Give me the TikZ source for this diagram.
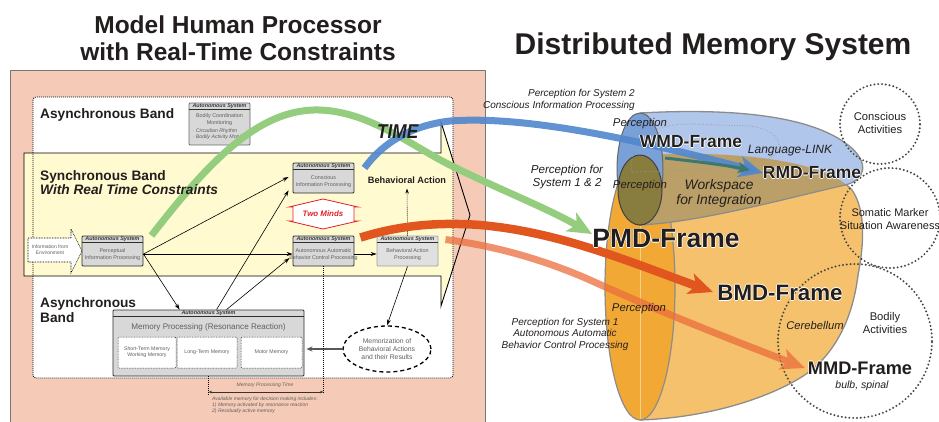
\documentclass[tikz,border=0pt]{standalone}
\usepackage{fontspec}
\setmainfont{Liberation Sans}
\usetikzlibrary{arrows.meta,shapes.geometric}

\definecolor{panelbg}{RGB}{245,203,183}
\definecolor{panelline}{RGB}{120,120,120}
\definecolor{bandyellow}{RGB}{255,250,208}
\definecolor{boxfill}{RGB}{216,216,216}
\definecolor{boxedge}{RGB}{45,45,45}
\definecolor{boxtext}{RGB}{95,95,95}
\definecolor{hdrtext}{RGB}{55,55,55}
\definecolor{mindred}{RGB}{230,30,40}
\definecolor{flowgreen}{RGB}{148,205,125}
\definecolor{flowblue}{RGB}{80,135,205}
\definecolor{flowred}{RGB}{225,85,30}
\definecolor{flowpeach}{RGB}{235,110,60}
\definecolor{linkteal}{RGB}{60,120,110}
\definecolor{bluebody}{RGB}{176,198,234}
\definecolor{bluefront}{RGB}{122,160,216}
\definecolor{orangebody}{RGB}{246,193,108}
\definecolor{orangefront}{RGB}{242,168,52}
\definecolor{workspace}{RGB}{186,160,104}
\definecolor{olive}{RGB}{136,124,62}
\definecolor{shapeedge}{RGB}{140,140,140}
\definecolor{circleedge}{RGB}{70,70,70}
\definecolor{labeltext}{RGB}{35,30,30}

\newcommand\fsz[2]{\fontsize{#1}{#2}\selectfont}

% text with a thin white outline, for labels lying on coloured areas
\newcommand\halo[1]{\leavevmode
  \rlap{\color{white}\raisebox{0.8pt}{#1}}%
  \rlap{\color{white}\raisebox{-0.8pt}{#1}}%
  \rlap{\color{white}\hspace{0.8pt}#1}%
  \rlap{\color{white}\hspace{-0.8pt}#1}%
  #1}

% an "Autonomous System" box: [style] name, x, y, width, height, body
\newcommand\asysbox[7][]{%
  \node[asbox, minimum width=#5, minimum height=#6, #1] (#2) at (#3,#4) {};
  \draw[draw=boxedge, line width=0.6pt] ([yshift=-7pt]#2.north west) -- ([yshift=-7pt]#2.north east);
  \node[ashdr] (#2-hdr) at ([yshift=-3.6pt]#2.north) {Autonomous System};
  \node[asbody] (#2-txt) at ([yshift=-3.5pt]#2.center) {#7};
}

\tikzset{
  asbox/.style={draw=boxedge, fill=boxfill, line width=0.9pt, rounded corners=1pt, inner sep=0pt},
  ashdr/.style={font=\bfseries\itshape\fsz{5.4}{6}, text=hdrtext, inner sep=0pt},
  asbody/.style={font=\fsz{5.4}{6.4}, text=boxtext, align=center, inner sep=0pt},
  memcell/.style={draw=boxedge, fill=white, line width=0.5pt, dash pattern=on 0.8pt off 0.8pt, rounded corners=1pt, inner sep=0pt, font=\fsz{5.2}{6.2}, text=boxtext, align=center},
  link/.style={draw=black, line width=0.6pt, -{Stealth[length=6pt,width=4pt]}},
  bandlabel/.style={font=\bfseries\fsz{13.7}{15.5}, text=labeltext, inner sep=0pt, anchor=base west},
  smallnote/.style={font=\itshape\fsz{5}{6}, text=boxtext, inner sep=0pt},
  framelabel/.style={font=\bfseries, text=labeltext, inner sep=0pt},
  itlabel/.style={font=\itshape, text=labeltext, inner sep=0pt, align=center},
  uplabel/.style={text=labeltext, inner sep=0pt, align=center},
  dotcircle/.style={circle, draw=circleedge, line width=2.2pt, dash pattern=on 0pt off 3.8pt, line cap=round, inner sep=0pt},
  flow/.style={line width=#1, line cap=butt},
  bighead/.style={-{Stealth[length=24pt,width=21pt,inset=6pt]}},
}

\begin{document}
\begin{tikzpicture}[x=1pt,y=-1pt]
\useasboundingbox (0,0) rectangle (939,421);

% ---------- titles ----------
\node[font=\bfseries\fsz{24.5}{27}, text=labeltext, align=center, inner sep=0pt] (ttl-left) at (238,38) {Model Human Processor\\with Real-Time Constraints};
\node[font=\bfseries\fsz{30}{34}, text=labeltext, inner sep=0pt] (ttl-right) at (713,47) {Distributed Memory System};

% ---------- left panel: bands ----------
\fill[panelbg] (10,70) rectangle (485,426);
\draw[panelline, line width=1pt] (10,426) -- (10,70) -- (485,70) -- (485,426);
\fill[white, rounded corners=3pt] (33,97) rectangle (453,378);
\begin{scope}
  \clip (0,0) rectangle (453,421);
  \fill[bandyellow] (24,153) -- (441,153) -- (441,122) -- (470,215) -- (441,306) -- (441,276) -- (24,276) -- cycle;
\end{scope}
\draw[black, line width=0.7pt, dash pattern=on 1pt off 1pt, rounded corners=3pt] (33,97) rectangle (453,378);
\draw[black, line width=0.9pt, line join=miter] (24,153) -- (441,153) -- (441,122) -- (470,215) -- (441,306) -- (441,276) -- (24,276) -- cycle;

% ---------- information input ----------
\filldraw[fill=white, draw=black, line width=0.6pt, dash pattern=on 0.8pt off 0.8pt] (28,238) -- (71,238) -- (71,229) -- (82,251) -- (71,273) -- (71,262) -- (28,262) -- cycle;
\node[asbody, font=\fsz{5}{6}] (env) at (50,250) {Information from\\Environment};

% ---------- autonomous systems ----------
\asysbox[draw=boxedge!70]{bcm}{219.5}{124}{61pt}{42pt}{}
\node[asbody] (bcm-txt2) at (219.5,119.5) {Bodily Coordination\\Monitoring};
\node[asbody, font=\itshape\fsz{5.2}{6}, align=left, anchor=west] (bcm-list) at (192,134.5) {$\cdot$ Circadian Rhythm\\$\cdot$ Bodily Activity Monitor};

\asysbox{pip}{112.5}{251}{61pt}{30pt}{Perceptual\\Information Processing}
\asysbox{cip}{323.5}{178}{61pt}{30pt}{Conscious\\Information Processing}
\asysbox{abc}{323.5}{251}{61pt}{30pt}{Autonomous Automatic\\Behavior Control Processing}
\asysbox[draw=boxedge!45, fill=boxfill!80]{bap}{407.5}{251}{61pt}{30pt}{Behavioral Action\\Processing}

\asysbox{mem}{208.5}{343}{191pt}{66pt}{}
\node[asbody, font=\fsz{8.1}{9}] (mem-title) at (208.5,327) {Memory Processing (Resonance Reaction)};
\node[memcell, minimum width=58pt, minimum height=31pt] (stm) at (147,352.5) {Short-Term Memory\\Working Memory};
\node[memcell, minimum width=60pt, minimum height=31pt] (ltm) at (207,352.5) {Long-Term Memory};
\node[memcell, minimum width=61pt, minimum height=31pt] (mot) at (271.5,352.5) {Motor Memory};

\node[ellipse, draw=black, line width=1.3pt, dash pattern=on 4pt off 3pt, fill=white, minimum width=88pt, minimum height=46pt, inner sep=0pt] (memo) at (387,349) {};
\node[uplabel, font=\fsz{6.8}{8}, text=boxtext] (memo-txt) at (387,349) {Memorization of\\Behavioral Actions\\and their Results};

% Two Minds
\filldraw[fill=white, draw=mindred, line width=0.8pt] (323,199) -- (358,207) -- (354,207) -- (354,221) -- (358,221) -- (323,229) -- (289,221) -- (293,221) -- (293,207) -- (289,207) -- cycle;
\node[font=\bfseries\itshape\fsz{7.9}{9}, text=mindred, inner sep=0pt] (two-minds) at (323,214) {Two Minds};

\node[font=\bfseries\fsz{9.2}{10}, text=labeltext, inner sep=0pt] (ba) at (407,180) {Behavioral Action};

% ---------- connectors ----------
\draw[link] ([yshift=-3pt]pip.east) -- ([yshift=-3pt]abc.west);
\draw[link] ([yshift=-3pt]pip.east) -- ([xshift=-4pt,yshift=1pt]cip.west);
\draw[link] ([yshift=-3pt]pip.east) -- ([xshift=67pt]mem.north west);
\draw[link] ([xshift=104pt]mem.north west) -- ([xshift=-4pt,yshift=3pt]cip.south west);
\draw[link] ([xshift=114pt]mem.north west) -- ([xshift=-3pt,yshift=-7pt]abc.west);
\draw[link] ([yshift=-3pt]abc.east) -- ([yshift=-3pt]bap.west);
\draw[link] (bap.south) -- (memo.north);
\draw[draw=black!65, line width=1.1pt, -{Stealth[length=6pt,width=5pt]}] (memo.west) -- ([xshift=2pt]memo.west -| mem.east);
\draw[draw=black, line width=0.6pt, dash pattern=on 1pt off 1pt, -{Stealth[length=5pt,width=3.5pt]}] (bap.north) -- ([yshift=-5pt]ba.south);

% memory processing time
\coordinate (mpt-left) at (208.5,392);
\coordinate (mpt-right) at (323.5,392);
\draw[black, line width=0.6pt, dash pattern=on 1pt off 1pt] (abc.south) -- (abc.south |- 0,394);
\draw[black, line width=0.6pt, dash pattern=on 1pt off 1pt] (mem.south) -- (mem.south |- 0,395);
\draw[black!80, line width=0.6pt, {Stealth[length=3.5pt,width=2.5pt]}-{Stealth[length=3.5pt,width=2.5pt]}] (mpt-left) -- (mpt-right);
\node[smallnote] (mpt) at (265,385) {Memory Processing Time};
\node[smallnote, anchor=north west, align=left] (avail) at (212,397) {Available memory for decision making includes:\\1) Memory activated by resonance reaction\\2) Residually active memory};

% ---------- distributed memory shapes ----------
\fill[orangebody] (640,155) .. controls (735,150) and (825,160) .. (852,190) .. controls (866,210) and (864,245) .. (858,275) .. controls (852,325) and (830,360) .. (800,378) .. controls (760,402) and (700,418) .. (640,420) -- cycle;
\filldraw[fill=orangefront, draw=shapeedge, line width=1.2pt] (640,287) ellipse[x radius=35, y radius=133];
\draw[white, opacity=0.45, line width=0.5pt] (640,156) -- (640,419);
\draw[shapeedge, line width=1.3pt] (640,155) .. controls (735,150) and (825,160) .. (852,190) .. controls (866,210) and (864,245) .. (858,275) .. controls (852,325) and (830,360) .. (800,378) .. controls (760,402) and (700,418) .. (640,420);

\fill[bluebody] (640,113) .. controls (730,108) and (810,115) .. (848,145) .. controls (870,162) and (866,180) .. (845,185) .. controls (780,200) and (700,222) .. (640,225) -- cycle;
\begin{scope}
  \clip (640,113) .. controls (730,108) and (810,115) .. (848,145) .. controls (870,162) and (866,180) .. (845,185) .. controls (780,200) and (700,222) .. (640,225) -- cycle;
  \fill[workspace] (640,155) .. controls (735,150) and (825,160) .. (852,190) .. controls (866,210) and (864,245) .. (858,275) -- (640,300) -- cycle;
\end{scope}
\draw[shapeedge, line width=1.3pt] (640,113) .. controls (730,108) and (810,115) .. (848,145) .. controls (870,162) and (866,180) .. (845,185) .. controls (780,200) and (700,222) .. (640,225);
\filldraw[fill=bluefront, draw=black!60, line width=1pt] (640,169) ellipse[x radius=23, y radius=56];
\filldraw[fill=olive, draw=black!75, line width=1pt] (640,190) ellipse[x radius=22, y radius=35];

% workspace outline
\draw[black!40, line width=1pt, dash pattern=on 0pt off 2.6pt, line cap=round] (632,172) .. controls (628,140) and (650,124) .. (690,124) -- (750,126) .. controls (782,130) and (786,150) .. (770,158) .. controls (740,168) and (690,171) .. (632,172);

% ---------- activity circles ----------
\node[dotcircle, minimum size=80pt] (c-conscious) at (880,124) {};
\node[dotcircle, minimum size=100pt] (c-somatic) at (890,218) {};
\node[dotcircle, minimum size=154pt] (c-bodily) at (855,341) {};

% ---------- flows ----------
\draw[flow=7pt, draw=flowgreen, bighead] ([xshift=8pt]pip.north east) .. controls (210,160) and (260,108) .. (320,110) .. controls (370,112) and (410,145) .. (450,165) .. controls (500,190) and (545,207) .. (592,234);
\draw[flow=8.5pt, draw=flowred, bighead] ([xshift=6pt,yshift=-2pt]abc.north east) .. controls (400,225) and (440,222) .. (480,225) .. controls (560,232) and (630,262) .. (713,292);
\begin{scope}[transparency group, opacity=0.75]
\draw[flow=7pt, draw=flowpeach, bighead] ([xshift=7pt,yshift=-4pt]bap.north east) .. controls (490,245) and (540,258) .. (590,280) .. controls (660,312) and (740,343) .. (805,368);
\end{scope}
\draw[flow=7pt, draw=flowblue, opacity=0.9, bighead] ([xshift=10pt,yshift=10pt]cip.east) .. controls (385,140) and (415,125) .. (450,121) .. controls (530,115) and (650,143) .. (763,173);
\draw[flow=3pt, draw=linkteal, -{Stealth[length=12pt,width=11pt,inset=3pt]}] (665,158) .. controls (700,162) and (725,165) .. (750,170);

% ---------- band labels (over the flows) ----------
\node[bandlabel] (async-top) at (40,118) {Asynchronous Band};
\node[bandlabel] (sync) at (40,180) {Synchronous Band};
\node[bandlabel, font=\bfseries\itshape\fsz{13.7}{15.5}] (sync-rt) at (40,194) {With Real Time Constraints};
\node[bandlabel] (async-low) at (40,307) {Asynchronous};
\node[bandlabel] (async-band) at (40,322) {Band};
\node[font=\bfseries\itshape\fsz{20}{22}, text=labeltext, inner sep=0pt, anchor=base west] (time) at (377,138) {\scalebox{0.86}[1]{TIME}};

% ---------- labels in the memory system ----------
\node[itlabel, font=\itshape\fsz{10}{11.5}, align=right, anchor=east] (lbl-sys2) at (635,100) {Perception for System 2\\Conscious Information Processing};
\node[itlabel, font=\itshape\fsz{11.6}{13.5}] (lbl-sys12) at (567,177) {Perception for\\System 1 \& 2};
\node[itlabel, font=\itshape\fsz{10}{11.5}] (lbl-sys1) at (565,334) {Perception for System 1\\Autonomous Automatic\\Behavior Control Processing};
\node[uplabel, font=\fsz{11.2}{12.5}] (lbl-conscious) at (880,123) {Conscious\\Activities};
\node[uplabel, font=\fsz{11}{12.5}] (lbl-somatic) at (890,219) {Somatic Marker\\Situation Awareness};
\node[uplabel, font=\fsz{11.2}{12.5}] (lbl-bodily) at (885,323) {Bodily\\Activities};

\node[itlabel, font=\itshape\fsz{11.3}{12}] (perc-w) at (640,124) {Perception};
\node[itlabel, font=\itshape\fsz{11.3}{12}] (perc-p) at (640,186) {Perception};
\node[itlabel, font=\itshape\fsz{11.3}{12}] (perc-b) at (639,309) {Perception};
\node[framelabel, font=\bfseries\fsz{17.5}{19}] (wmd) at (691,142) {\halo{WMD-Frame}};
\node[itlabel, font=\itshape\fsz{12}{13}] (lang) at (790,151) {Language-LINK};
\node[framelabel, font=\bfseries\fsz{17.5}{19}] (rmd) at (812,173) {\halo{RMD-Frame}};
\node[itlabel, font=\itshape\fsz{13.8}{15}] (wsp) at (719,193) {Workspace\\for Integration};
\node[framelabel, font=\bfseries\fsz{26.5}{28}] (pmd) at (666,239) {\halo{PMD-Frame}};
\node[framelabel, font=\bfseries\fsz{22.3}{24}] (bmd) at (780,293) {\halo{BMD-Frame}};
\node[itlabel, font=\itshape\fsz{11.2}{12}] (cereb) at (815,325) {Cerebellum};
\node[framelabel, font=\bfseries\fsz{18.2}{20}] (mmd) at (860,368) {\halo{MMD-Frame}};
\node[itlabel, font=\itshape\fsz{10.5}{12}] (spinal) at (862,386) {bulb, spinal};

\end{tikzpicture}
\end{document}
